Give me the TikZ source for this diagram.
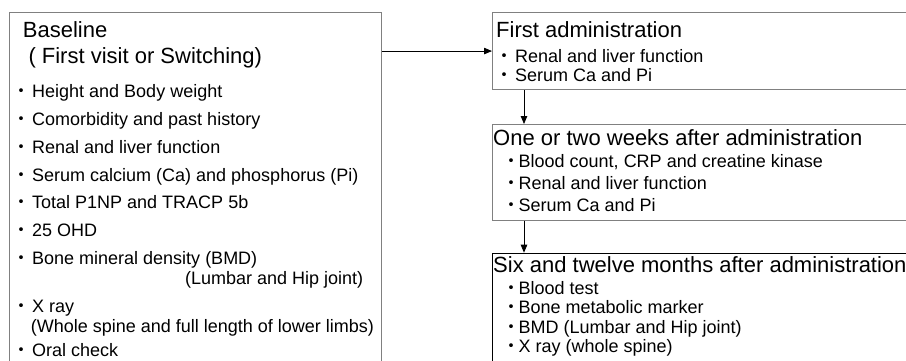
\documentclass[tikz,border=0pt]{standalone}
\usepackage{fontspec}
\setmainfont{Liberation Sans}
\newfontfamily\cjk{Noto Sans CJK JP}
\usetikzlibrary{arrows.meta,positioning}

\newcommand\itm[1][21pt]{\makebox[#1][c]{\cjk ・}}

\begin{document}
\begin{tikzpicture}[x=1pt, y=-1pt,
       box/.style = {draw=gray, line width=1.1pt, inner sep=0pt, anchor=north west},
  boxtitle/.style = {font=\fontsize{22}{26}\selectfont, inner sep=0pt, anchor=base west},
  itemtext/.style = {font=\fontsize{18}{20}\selectfont, inner sep=0pt, anchor=base west},
       arr/.style = {-{Triangle[length=8pt,width=6.5pt]}, line width=0.8pt}
                        ]
    \useasboundingbox (0,0) rectangle (906,360);
    \clip (0,0) rectangle (906,360);

    % the boxes, cut by the edge of the picture
    \node[box, minimum width=372pt, minimum height=380pt] (baseline) at (9,12) {};
    \node[box, minimum width=423pt, minimum height=77pt] (first) at (492,12) {};
    \node[box, minimum width=423pt, minimum height=95.5pt] (weeks) at (492,124) {};
    \node[box, draw=black, minimum width=423pt, minimum height=120pt] (months) at (492,252.7) {};

    % Baseline
    \node[boxtitle] (b0) at (22.7,37) {Baseline};
    \node[boxtitle] (b1) at (28.3,63) {( First visit or Switching)};
    \foreach \y/\t [count=\i] in {97/Height and Body weight,
                                  125/Comorbidity and past history,
                                  153/Renal and liver function,
                                  181/Serum calcium (Ca) and phosphorus (Pi),
                                  208/Total P1NP and TRACP 5b,
                                  236/25 OHD,
                                  264/Bone mineral density (BMD),
                                  312/X ray,
                                  356.5/Oral check}
        \node[itemtext] (bi\i) at (11,\y) {\itm\t};
    \node[itemtext] (lumbar) at (185,284) {(Lumbar and Hip joint)};
    \node[itemtext] (whole) at (30.7,332) {(Whole spine and full length of lower limbs)};

    % First administration
    \node[boxtitle] (f0) at (496,37) {First administration};
    \node[itemtext] (f1) at (494,62) {\itm Renal and liver function};
    \node[itemtext] (f2) at (494,81.5) {\itm Serum Ca and Pi};

    % One or two weeks
    \node[boxtitle] (w0) at (493,145) {One or two weeks after administration};
    \foreach \y/\t [count=\i] in {167/{Blood count, CRP and creatine kinase},
                                  189/Renal and liver function,
                                  211/Serum Ca and Pi}
        \node[itemtext] (wi\i) at (503.5,\y) {\itm[15pt]\t};

    % Six and twelve months
    \node[boxtitle] (m0) at (493,272) {Six and twelve months after administration};
    \foreach \y/\t [count=\i] in {294/Blood test,
                                  313.5/Bone metabolic marker,
                                  333/BMD (Lumbar and Hip joint),
                                  352.5/X ray (whole spine)}
        \node[itemtext] (mi\i) at (503.5,\y) {\itm[15pt]\t};

    \draw[arr] (first.west -| baseline.east) -- (first.west);
    \draw[arr] ([xshift=32pt]first.south west) -- ([xshift=32pt]weeks.north west);
    \draw[arr] ([xshift=32pt]weeks.south west) -- ([xshift=32pt]months.north west);

\end{tikzpicture}
\end{document}
